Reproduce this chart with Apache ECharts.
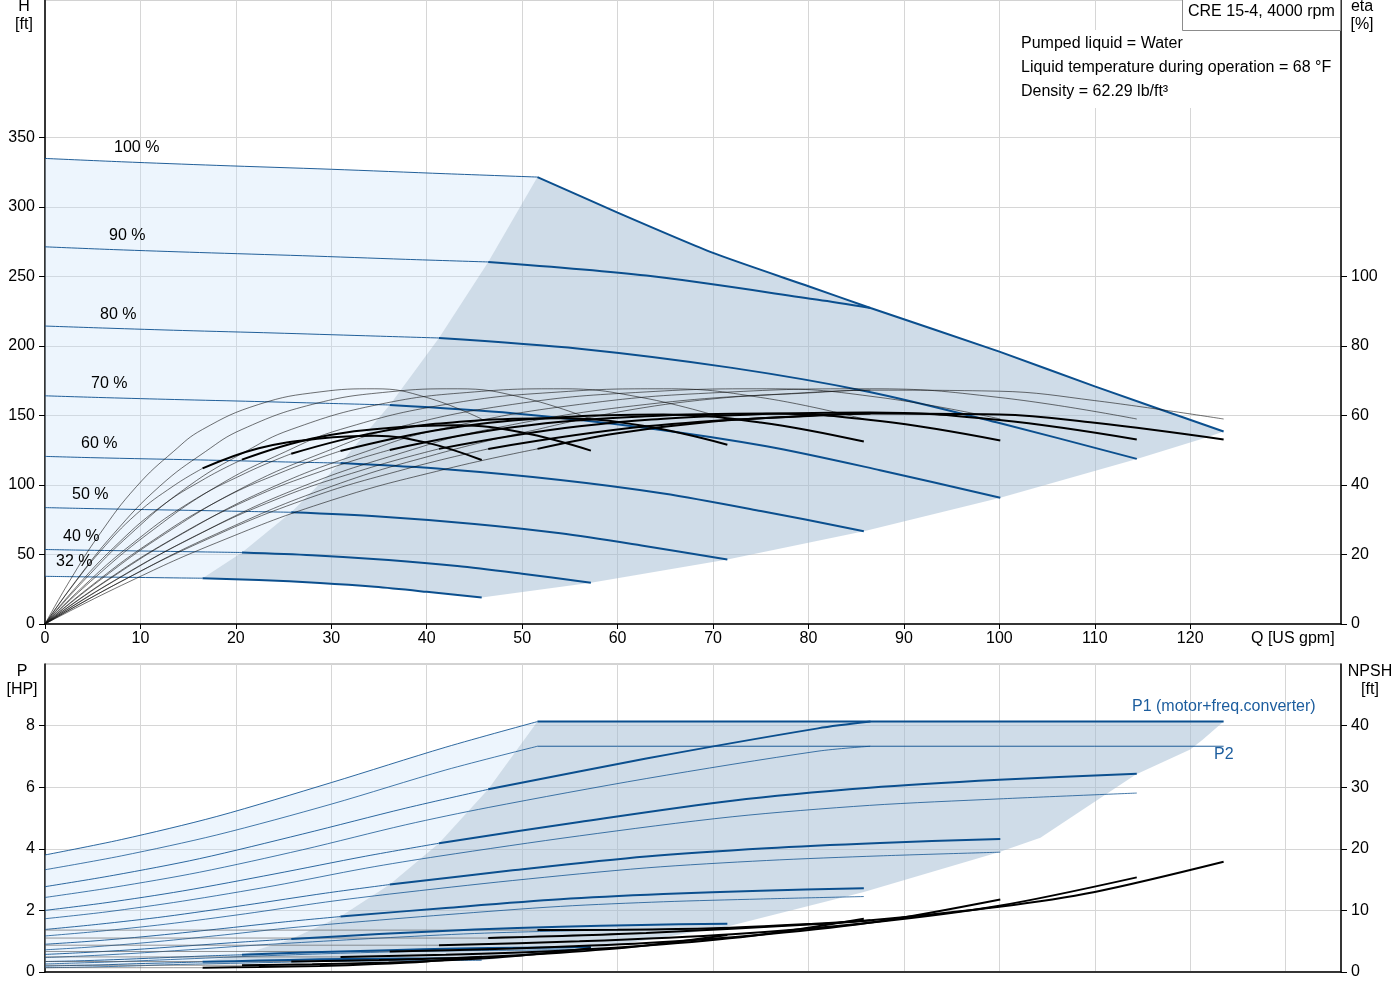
<!DOCTYPE html>
<html>
<head>
<meta charset="utf-8">
<title>CRE 15-4, 4000 rpm</title>
<script src="https://cdn.jsdelivr.net/npm/echarts@6/dist/echarts.min.js"></script>
<style>
    html, body { margin: 0; padding: 0; background: #fff; }
    #chart { width: 1400px; height: 1000px; }
</style>
</head>
<body>
<div id="chart"></div>
<script>
// CRE 15-4 pump curves, speed order 32 % .. 100 %
const speeds = ['32 %', '40 %', '50 %', '60 %', '70 %', '80 %', '90 %', '100 %'];

// flow Q [US gpm] per speed
const flow = [
    [0, 2.56, 5.76, 9.6, 13.44, 16.51, 22.4, 28.8, 34.56, 40, 45.76],
    [0, 3.2, 7.2, 12, 16.8, 20.64, 28, 36, 43.2, 50, 57.2],
    [0, 4, 9, 15, 21, 25.8, 35, 45, 54, 62.5, 71.5],
    [0, 4.8, 10.8, 18, 25.2, 30.96, 42, 54, 64.8, 75, 85.8],
    [0, 5.6, 12.6, 21, 29.4, 36.12, 49, 63, 75.6, 87.5, 100.1],
    [0, 6.4, 14.4, 24, 33.6, 41.28, 56, 72, 86.4, 100, 114.4],
    [0, 7.2, 16.2, 27, 37.8, 46.44, 63, 81, 86.5],
    [0, 8, 18, 30, 42, 51.6]
];

// head H [ft]
const head = [
    [34.3, 34.06, 33.79, 33.51, 33.18, 32.93, 31.69, 29.49, 26.73, 23.14, 19.01],
    [53.6, 53.22, 52.8, 52.35, 51.84, 51.46, 49.52, 46.08, 41.76, 36.16, 29.7],
    [83.75, 83.15, 82.5, 81.8, 81, 80.4, 77.38, 72, 65.25, 56.5, 46.4],
    [120.6, 119.7, 118.8, 117.8, 116.6, 115.8, 111.4, 103.7, 93.96, 81.36, 66.8],
    [164.2, 163, 161.7, 160.3, 158.8, 157.6, 151.7, 141.1, 127.9, 110.7, 90.9],
    [214.4, 212.9, 211.2, 209.4, 207.4, 205.8, 198.1, 184.3, 167, 144.6, 118.8],
    [271.4, 269.4, 267.3, 265, 262.4, 260.5, 250.7, 233.3, 227.4],
    [335, 332.6, 330, 327.2, 324, 321.6]
];

// pump efficiency [%]
const etaPump = [
    [0, 12.3, 26, 39.6, 49.6, 56, 63.2, 66.8, 67.7, 65.2, 59],
    [0, 12.3, 26, 39.6, 49.6, 56, 63.2, 66.8, 67.7, 65.2, 59],
    [0, 12.3, 26, 39.6, 49.6, 56, 63.2, 66.8, 67.7, 65.2, 59],
    [0, 12.3, 26, 39.6, 49.6, 56, 63.2, 66.8, 67.7, 65.2, 59],
    [0, 12.3, 26, 39.6, 49.6, 56, 63.2, 66.8, 67.7, 65.2, 59],
    [0, 12.3, 26, 39.6, 49.6, 56, 63.2, 66.8, 67.7, 65.2, 59],
    [0, 12.3, 26, 39.6, 49.6, 56, 63.2, 66.8, 67.3],
    [0, 12.3, 26, 39.6, 49.6, 56]
];

// total efficiency [%]
const etaTotal = [
    [0, 9.8, 20.8, 31.7, 39.7, 44.8, 50.6, 53.4, 54.2, 52.2, 47.2],
    [0, 10.4, 22, 33.5, 41.9, 47.3, 53.4, 56.4, 57.2, 55.1, 49.9],
    [0, 10.8, 22.8, 34.7, 43.4, 49, 55.3, 58.5, 59.2, 57.1, 51.6],
    [0, 10.9, 23.1, 35.2, 44.1, 49.8, 56.2, 59.5, 60.3, 58, 52.5],
    [0, 11, 23.3, 35.4, 44.4, 50.1, 56.6, 59.8, 60.6, 58.4, 52.8],
    [0, 11.1, 23.4, 35.6, 44.6, 50.4, 56.9, 60.1, 60.9, 58.7, 53.1],
    [0, 11.1, 23.4, 35.6, 44.6, 50.4, 56.9, 60.1, 60.6],
    [0, 11.1, 23.4, 35.6, 44.6, 50.4]
];

// P1 (motor+freq.converter) [HP]
const powerP1 = [
    [0.19, 0.21, 0.23, 0.27, 0.3, 0.33, 0.37, 0.41, 0.43, 0.44, 0.45],
    [0.34, 0.36, 0.4, 0.46, 0.52, 0.56, 0.64, 0.71, 0.76, 0.79, 0.81],
    [0.57, 0.63, 0.72, 0.85, 0.98, 1.07, 1.23, 1.38, 1.47, 1.53, 1.57],
    [0.9, 1.0, 1.16, 1.39, 1.63, 1.8, 2.08, 2.36, 2.53, 2.64, 2.72],
    [1.38, 1.55, 1.8, 2.17, 2.56, 2.84, 3.3, 3.75, 4.02, 4.19, 4.32],
    [2.0, 2.25, 2.63, 3.18, 3.76, 4.18, 4.87, 5.56, 5.98, 6.24, 6.44],
    [2.77, 3.14, 3.68, 4.48, 5.32, 5.93, 6.93, 7.91, 8.13],
    [3.8, 4.3, 5.05, 6.15, 7.3, 8.13]
];

// P2 [HP]
const powerP2 = [
    [0.14, 0.15, 0.17, 0.2, 0.24, 0.26, 0.3, 0.34, 0.36, 0.37, 0.38],
    [0.26, 0.29, 0.33, 0.39, 0.45, 0.5, 0.58, 0.65, 0.69, 0.71, 0.73],
    [0.47, 0.52, 0.6, 0.72, 0.85, 0.94, 1.1, 1.25, 1.33, 1.38, 1.42],
    [0.72, 0.81, 0.96, 1.18, 1.42, 1.58, 1.86, 2.13, 2.28, 2.37, 2.45],
    [1.17, 1.32, 1.55, 1.89, 2.27, 2.53, 2.97, 3.38, 3.62, 3.77, 3.89],
    [1.73, 1.95, 2.3, 2.8, 3.37, 3.76, 4.42, 5.04, 5.41, 5.62, 5.81],
    [2.42, 2.75, 3.24, 3.97, 4.78, 5.34, 6.28, 7.17, 7.33],
    [3.32, 3.77, 4.45, 5.45, 6.56, 7.33]
];

// NPSH [ft]
const npsh = [
    [0.7, 0.7, 0.7, 0.7, 0.7, 0.7, 0.8, 0.98, 1.28, 1.72, 2.46],
    [1.09, 1.09, 1.09, 1.09, 1.09, 1.09, 1.25, 1.54, 2.0, 2.69, 3.84],
    [1.7, 1.7, 1.7, 1.7, 1.7, 1.7, 1.95, 2.4, 3.13, 4.2, 6.0],
    [2.45, 2.45, 2.45, 2.45, 2.45, 2.45, 2.81, 3.46, 4.5, 6.05, 8.64],
    [3.33, 3.33, 3.33, 3.33, 3.33, 3.33, 3.82, 4.7, 6.13, 8.23, 11.76],
    [4.35, 4.35, 4.35, 4.35, 4.35, 4.35, 4.99, 6.14, 8.0, 10.75, 15.36],
    [5.51, 5.51, 5.51, 5.51, 5.51, 5.51, 6.32, 7.78, 8.42],
    [6.8, 6.8, 6.8, 6.8, 6.8, 6.8]
];

// index of the minimum-flow point on every curve
const minFlowIndex = 5;

// max (power limited) curve
const maxFlow = [51.6, 60, 70, 80, 86.5, 100, 110, 123.5];
const maxHead = [321.6, 296, 267, 243, 227.4, 196, 171, 138.5];
const maxEtaPump = [56, 61, 64.8, 66.5, 67.3, 67, 64.3, 59];
const maxEtaTotal = [50.4, 54.9, 58.3, 59.9, 60.6, 60.3, 57.9, 53.1];
const maxP1 = [8.13, 8.13, 8.13, 8.13, 8.13, 8.13, 8.13, 8.13];
const maxP2 = [7.33, 7.33, 7.33, 7.33, 7.33, 7.33, 7.33, 7.33];
const maxNpsh = [6.8, 6.85, 7.1, 7.8, 8.42, 10.6, 13.0, 17.9];

// extra corner points of the operating range
const headCornerFlow = [121.6];
const headCornerHead = [134];
const powerEdgeFlow = [121.3, 120, 114.3, 104.3, 100, 85.8, 71.5, 57.2, 45.76];
const powerEdgeP = [7.54, 7.22, 6.41, 4.36, 3.9, 2.6, 1.48, 0.73, 0.38];

// tick values
const flowTicks = [0, 10, 20, 30, 40, 50, 60, 70, 80, 90, 100, 110, 120];
const headTicks = [0, 50, 100, 150, 200, 250, 300, 350];
const etaTicks = [0, 20, 40, 60, 80, 100];
const powerTicks = [0, 2, 4, 6, 8];
const npshTicks = [0, 10, 20, 30, 40];

// 文本
const speedLabelPos = [[56, 562], [63, 537], [72, 495], [81, 444], [91, 384], [100, 315], [109, 236], [114, 148]];
const infoLines = ['Pumped liquid = Water', 'Liquid temperature during operation = 68 °F', 'Density = 62.29 lb/ft³'];

const BLUE = '#0b4f8e';
const LIGHT = 'rgba(198, 225, 248, 0.32)';
const DARK = 'rgba(160, 185, 210, 0.5)';
const FONT = 'Liberation Sans, Arial, sans-serif';
const FONT_SIZE = 16;

function pairs(xs, ys, from, to) {
    const out = [];
    for (let i = from; i <= to; i++) out.push([xs[i], ys[i]]);
    return out;
}

function curve(data, xIndex, yIndex, color, width, opacity, z, smooth) {
    return {
        type: 'line',
        xAxisIndex: xIndex,
        yAxisIndex: yIndex,
        data: data,
        symbol: 'none',
        showSymbol: false,
        smooth: smooth,
        silent: true,
        z: z,
        lineStyle: { color: color, width: width, opacity: opacity }
    };
}

function area(points, xIndex, yIndex, fill) {
    return {
        type: 'custom',
        xAxisIndex: xIndex,
        yAxisIndex: yIndex,
        data: [[0, 0]],
        silent: true,
        z: 1,
        renderItem: function (params, api) {
            return {
                type: 'polygon',
                shape: { points: points.map(p => api.coord(p)) },
                style: { fill: fill }
            };
        }
    };
}

const last = i => flow[i].length - 1;

// 运行区域
const topLight = pairs(flow[7], head[7], 0, minFlowIndex);
for (let i = 6; i >= 0; i--) topLight.push([flow[i][minFlowIndex], head[i][minFlowIndex]]);
for (let j = minFlowIndex - 1; j >= 0; j--) topLight.push([flow[0][j], head[0][j]]);

const topDark = [];
for (let i = 0; i <= 7; i++) topDark.push([flow[i][minFlowIndex], head[i][minFlowIndex]]);
topDark.push(...pairs(maxFlow, maxHead, 1, maxFlow.length - 1));
topDark.push([headCornerFlow[0], headCornerHead[0]]);
for (let i = 5; i >= 0; i--) topDark.push([flow[i][last(i)], head[i][last(i)]]);
for (let j = last(0) - 1; j > minFlowIndex; j--) topDark.push([flow[0][j], head[0][j]]);

const botLight = pairs(flow[7], powerP1[7], 0, minFlowIndex);
for (let i = 6; i >= 0; i--) botLight.push([flow[i][minFlowIndex], powerP1[i][minFlowIndex]]);
for (let j = minFlowIndex; j >= 0; j--) botLight.push([flow[0][j], powerP2[0][j]]);

const botDark = [];
for (let i = 0; i <= 7; i++) botDark.push([flow[i][minFlowIndex], powerP1[i][minFlowIndex]]);
botDark.push([maxFlow[maxFlow.length - 1], maxP1[maxP1.length - 1]]);
for (let k = 0; k < powerEdgeFlow.length; k++) botDark.push([powerEdgeFlow[k], powerEdgeP[k]]);
for (let j = last(0) - 1; j >= minFlowIndex; j--) botDark.push([flow[0][j], powerP2[0][j]]);

const series = [
    area(topLight, 0, 0, LIGHT),
    area(topDark, 0, 0, DARK),
    area(botLight, 1, 2, LIGHT),
    area(botDark, 1, 2, DARK)
];

for (let i = 0; i < speeds.length; i++) {
    const n = last(i);
    const full = i < 7;
    // 扬程
    series.push(curve(pairs(flow[i], head[i], 0, minFlowIndex), 0, 0, BLUE, 1, 0.9, 3, 0.3));
    if (full) series.push(curve(pairs(flow[i], head[i], minFlowIndex, n), 0, 0, BLUE, 2, 1, 4, 0.3));
    // 效率
    series.push(curve(pairs(flow[i], etaPump[i], 0, n), 0, 1, '#111', 0.7, 0.85, 5, 0.45));
    series.push(curve(pairs(flow[i], etaTotal[i], 0, minFlowIndex), 0, 1, '#111', 0.7, 0.85, 5, 0.45));
    if (full) series.push(curve(pairs(flow[i], etaTotal[i], minFlowIndex, n), 0, 1, '#000', 2, 1, 6, 0.4));
    // 功率
    series.push(curve(pairs(flow[i], powerP1[i], 0, minFlowIndex), 1, 2, BLUE, 1, 0.85, 3, 0.3));
    if (full) series.push(curve(pairs(flow[i], powerP1[i], minFlowIndex, n), 1, 2, BLUE, 2, 1, 4, 0.3));
    series.push(curve(pairs(flow[i], powerP2[i], 0, n), 1, 2, BLUE, 1, 0.75, 3, 0.3));
    // NPSH
    series.push(curve(pairs(flow[i], npsh[i], 0, minFlowIndex), 1, 3, '#555', 1, 0.6, 3, 0));
    if (full) series.push(curve(pairs(flow[i], npsh[i], minFlowIndex, n), 1, 3, '#000', 2, 1, 5, 0.3));
}

const maxN = maxFlow.length - 1;
series.push(curve(pairs(maxFlow, maxHead, 0, maxN), 0, 0, BLUE, 2, 1, 4, 0.2));
series.push(curve(pairs(maxFlow, maxEtaPump, 0, maxN), 0, 1, '#111', 0.7, 0.85, 5, 0.4));
series.push(curve(pairs(maxFlow, maxEtaTotal, 0, maxN), 0, 1, '#000', 2, 1, 6, 0.4));
series.push(curve(pairs(maxFlow, maxP1, 0, maxN), 1, 2, BLUE, 2, 1, 4, 0));
series.push(curve(pairs(maxFlow, maxP2, 0, maxN), 1, 2, BLUE, 1, 0.9, 4, 0));
series.push(curve(pairs(maxFlow, maxNpsh, 0, maxN), 1, 3, '#000', 2, 1, 5, 0.3));

function text(x, y, str, opts) {
    return {
        type: 'text',
        x: x,
        y: y,
        z: 100,
        silent: true,
        style: Object.assign({
            text: str,
            fill: '#000',
            font: FONT_SIZE + 'px ' + FONT,
            textAlign: 'left',
            align: 'left',
            textVerticalAlign: 'middle',
            verticalAlign: 'middle'
        }, opts || {})
    };
}
const centered = { textAlign: 'center', align: 'center' };

const graphics = [
    { type: 'rect', z: 90, silent: true, shape: { x: 1015, y: 30, width: 318, height: 78 }, style: { fill: '#fff' } },
    { type: 'rect', z: 91, silent: true, shape: { x: 1182.5, y: -0.5, width: 158, height: 31 },
      style: { fill: '#fff', stroke: '#8c8c8c', lineWidth: 1 } },
    text(1188, 12, 'CRE 15-4, 4000 rpm'),
    text(24, 7, 'H', centered),
    text(24, 25, '[ft]', centered),
    text(1362, 7, 'eta', centered),
    text(1362, 25, '[%]', centered),
    text(1251, 639, 'Q [US gpm]'),
    text(22, 672, 'P', centered),
    text(22, 690, '[HP]', centered),
    text(1370, 672, 'NPSH', centered),
    text(1370, 690, '[ft]', centered),
    text(1132, 707, 'P1 (motor+freq.converter)', { fill: '#1c5d9e' }),
    text(1214, 755, 'P2', { fill: '#1c5d9e' })
];
infoLines.forEach((line, k) => graphics.push(text(1021, 44 + k * 24, line)));
speeds.forEach((s, k) => graphics.push(text(speedLabelPos[k][0], speedLabelPos[k][1], s)));

function valueAxis(extra, ticks, tickLength) {
    const axis = {
        type: 'value',
        axisLine: { show: true, onZero: false, lineStyle: { color: '#000', width: 1.5 } },
        axisTick: { show: !!ticks, length: tickLength || 6, lineStyle: { color: '#000' } },
        axisLabel: { color: '#000', fontSize: FONT_SIZE, fontFamily: FONT, margin: 10 },
        splitLine: { show: true, lineStyle: { color: '#d6d6d6', width: 1 } }
    };
    if (ticks) {
        axis.axisTick.customValues = ticks;
        axis.axisLabel.customValues = ticks;
    } else {
        axis.axisLabel.show = false;
    }
    return Object.assign(axis, extra);
}

const chart = echarts.init(document.getElementById('chart'));
chart.setOption({
    animation: false,
    backgroundColor: '#fff',
    textStyle: { fontFamily: FONT },
    grid: [
        { left: 45, right: 59, top: 0, height: 624, show: true, borderColor: '#a6a6a6', borderWidth: 1 },
        { left: 45, right: 59, top: 664, height: 308, show: true, borderColor: '#a6a6a6', borderWidth: 1 }
    ],
    xAxis: [
        valueAxis({ gridIndex: 0, min: 0, max: 135.8, interval: 10 }, flowTicks, 5),
        valueAxis({ gridIndex: 1, min: 0, max: 135.8, interval: 10 }, null)
    ],
    yAxis: [
        valueAxis({ gridIndex: 0, min: 0, max: 449, interval: 50, position: 'left' }, headTicks),
        valueAxis({ gridIndex: 0, min: 0, max: 179.6, interval: 20, position: 'right', splitLine: { show: false } }, etaTicks),
        valueAxis({ gridIndex: 1, min: 0, max: 10, interval: 2, position: 'left' }, powerTicks),
        valueAxis({ gridIndex: 1, min: 0, max: 50, interval: 10, position: 'right', splitLine: { show: false } }, npshTicks)
    ],
    graphic: graphics,
    series: series
});
chart.setOption({ xAxis: [{ axisLabel: { margin: 7 } }, {}] });
window.addEventListener('resize', () => chart.resize());
</script>
</body>
</html>
